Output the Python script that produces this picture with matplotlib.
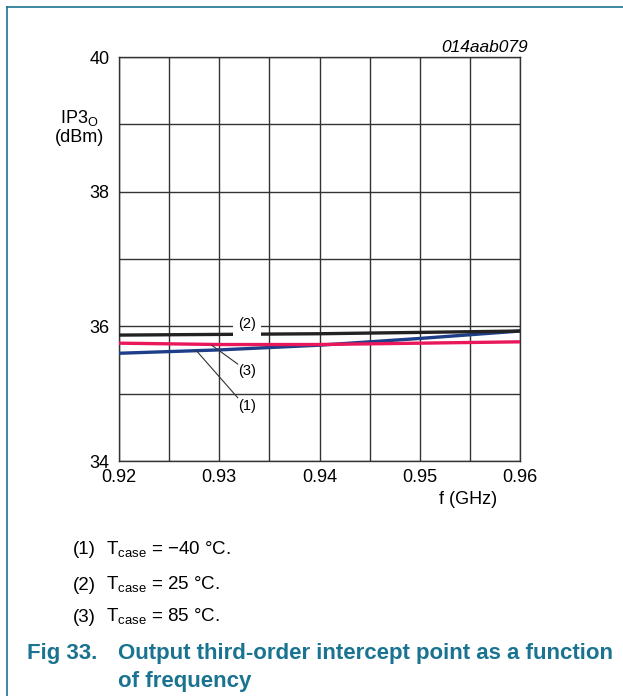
import matplotlib
matplotlib.use("Agg")
from matplotlib import pyplot as plt
from matplotlib.lines import Line2D

plt.rcParams['font.family'] = ['Liberation Sans', 'DejaVu Sans']
plt.rcParams['mathtext.fontset'] = 'custom'
plt.rcParams['mathtext.rm'] = 'Liberation Sans'

# data
freq = [0.92, 0.93, 0.94, 0.95, 0.96]
ip3_m40 = [35.60, 35.65, 35.72, 35.82, 35.93]   # (1) -40 C
ip3_25 = [35.87, 35.88, 35.89, 35.91, 35.93]    # (2) 25 C
ip3_85 = [35.75, 35.73, 35.73, 35.75, 35.77]    # (3) 85 C

xticks = [0.92, 0.93, 0.94, 0.95, 0.96]
xgrid = [0.92, 0.925, 0.93, 0.935, 0.94, 0.945, 0.95, 0.955, 0.96]
ygrid = [34, 35, 36, 37, 38, 39, 40]
ylabels = ["34", "", "36", "", "38", "", "40"]

teal = "#1a7390"

fig = plt.figure(figsize=(6.23, 6.96), dpi=100)
ax = fig.add_axes([119 / 623, 1 - 461 / 696, 401 / 623, 404 / 696])

ax.plot(freq, ip3_m40, color="#1f3e8a", lw=2.4, zorder=3)
ax.plot(freq, ip3_25, color="#222222", lw=2.4, zorder=3)
ax.plot(freq, ip3_85, color="#e8185a", lw=2.4, zorder=3)

ax.set_xlim(0.92, 0.96)
ax.set_ylim(34, 40)
ax.set_xticks(xgrid)
ax.set_xticklabels(["{:.2f}".format(v) if v in xticks else "" for v in xgrid])
ax.set_yticks(ygrid)
ax.set_yticklabels(ylabels)
ax.tick_params(length=0, labelsize=13)
ax.tick_params(axis='y', pad=7)
ax.tick_params(axis='x', pad=6)
ax.grid(color="#333333", lw=1)
for s in ax.spines.values():
    s.set_color("#333333")
    s.set_linewidth(1)

# curve labels
lab_x = 0.93277
ax.text(lab_x, 36.04, "(2)", fontsize=10.5, ha="center", va="center",
        bbox=dict(facecolor="white", edgecolor="none", pad=4), zorder=4)
ax.text(lab_x, 35.33, "(3)", fontsize=10.5, ha="center", va="center")
ax.text(lab_x, 34.81, "(1)", fontsize=10.5, ha="center", va="center")
ax.plot([0.92925, 0.93184], [35.72, 35.44], color="#333333", lw=0.8, zorder=4)
ax.plot([0.92768, 0.93184], [35.645, 34.94], color="#333333", lw=0.8, zorder=4)

fig.text(528 / 623, 1 - 48 / 696, "014aab079", fontsize=12.5, style="italic",
         ha="right", va="center")
fig.text(79 / 623, 1 - 127 / 696, "IP3$_\\mathregular{O}$\n(dBm)", fontsize=13,
         ha="center", va="center", linespacing=1.05)
fig.text(497 / 623, 1 - 500 / 696, "f (GHz)", fontsize=13, ha="right", va="center")

# notes
notes = ["(1)", "(2)", "(3)"]
temps = ["\u221240 \u00b0C.", "25 \u00b0C.", "85 \u00b0C."]
note_y = [550, 585, 617]
for n, t, y in zip(notes, temps, note_y):
    fig.text(73 / 623, 1 - y / 696, n, fontsize=13.5, va="center")
    fig.text(106 / 623, 1 - y / 696, "T$_\\mathregular{case}$ = " + t, fontsize=13.5,
             va="center")

fig.text(27 / 623, 1 - 653 / 696, "Fig 33.", fontsize=16, fontweight="bold",
         color=teal, va="center")
fig.text(118 / 623, 1 - 653 / 696, "Output third-order intercept point as a function",
         fontsize=16, fontweight="bold", color=teal, va="center")
fig.text(118 / 623, 1 - 681 / 696, "of frequency", fontsize=16, fontweight="bold",
         color=teal, va="center")

# frame lines
fig.add_artist(Line2D([7 / 623, 1], [1 - 7 / 696, 1 - 7 / 696], color=teal, lw=1.2))
fig.add_artist(Line2D([7 / 623, 7 / 623], [1 - 7 / 696, 0], color=teal, lw=1.2))

plt.savefig("out.png", dpi=100)
